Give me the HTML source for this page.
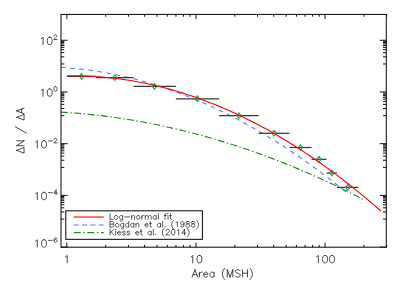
<!DOCTYPE html>
<html><head><meta charset="utf-8"><title>chart</title>
<style>html,body{margin:0;padding:0;background:#fff}</style>
</head><body>
<svg width="407" height="291" viewBox="0 0 407 291" style="display:block">
<rect width="407" height="291" fill="#fff"/>
<path d="M61.00,112.07 L64.83,112.31 L68.67,112.57 L72.50,112.85 L76.34,113.16 L80.17,113.49 L84.01,113.84 L87.84,114.21 L91.67,114.61 L95.51,115.02 L99.34,115.46 L103.18,115.93 L107.01,116.41 L110.84,116.92 L114.68,117.45 L118.51,118.00 L122.35,118.58 L126.18,119.17 L130.02,119.79 L133.85,120.43 L137.68,121.10 L141.52,121.78 L145.35,122.49 L149.19,123.22 L153.02,123.98 L156.85,124.75 L160.69,125.55 L164.52,126.37 L168.36,127.21 L172.19,128.08 L176.03,128.96 L179.86,129.87 L183.69,130.80 L187.53,131.76 L191.36,132.74 L195.20,133.73 L199.03,134.76 L202.86,135.80 L206.70,136.86 L210.53,137.95 L214.37,139.06 L218.20,140.20 L222.04,141.35 L225.87,142.53 L229.70,143.73 L233.54,144.95 L237.37,146.20 L241.21,147.46 L245.04,148.75 L248.87,150.06 L252.71,151.40 L256.54,152.75 L260.38,154.13 L264.21,155.53 L268.05,156.96 L271.88,158.40 L275.71,159.87 L279.55,161.36 L283.38,162.87 L287.22,164.41 L291.05,165.96 L294.88,167.54 L298.72,169.15 L302.55,170.77 L306.39,172.42 L310.22,174.09 L314.06,175.78 L317.89,177.49 L321.72,179.23 L325.56,180.98 L329.39,182.76 L333.23,184.57 L337.06,186.39 L340.89,188.24 L344.73,190.11 L348.56,192.00 L352.40,193.92 L356.23,195.85 L360.07,197.81 L363.90,199.80" fill="none" stroke="#228b22" stroke-width="1.15" stroke-dasharray="7,2.45,1.4,2.45"/>
<path d="M61.00,67.30 L64.64,67.55 L68.28,67.83 L71.92,68.15 L75.56,68.50 L79.20,68.88 L82.84,69.30 L86.47,69.75 L90.11,70.24 L93.75,70.77 L97.39,71.33 L101.03,71.92 L104.67,72.55 L108.31,73.21 L111.95,73.91 L115.59,74.65 L119.23,75.41 L122.87,76.22 L126.51,77.05 L130.15,77.93 L133.78,78.84 L137.42,79.78 L141.06,80.75 L144.70,81.77 L148.34,82.81 L151.98,83.90 L155.62,85.01 L159.26,86.16 L162.90,87.35 L166.54,88.57 L170.18,89.83 L173.82,91.12 L177.46,92.44 L181.09,93.80 L184.73,95.20 L188.37,96.63 L192.01,98.10 L195.65,99.60 L199.29,101.13 L202.93,102.70 L206.57,104.30 L210.21,105.94 L213.85,107.62 L217.49,109.33 L221.13,111.07 L224.77,112.85 L228.41,114.66 L232.04,116.51 L235.68,118.40 L239.32,120.31 L242.96,122.27 L246.60,124.25 L250.24,126.28 L253.88,128.33 L257.52,130.43 L261.16,132.55 L264.80,134.72 L268.44,136.91 L272.08,139.14 L275.72,141.41 L279.35,143.71 L282.99,146.05 L286.63,148.42 L290.27,150.83 L293.91,153.27 L297.55,155.74 L301.19,158.25 L304.83,160.80 L308.47,163.38 L312.11,165.99 L315.75,168.64 L319.39,171.33 L323.03,174.05 L326.66,176.80 L330.30,179.59 L333.94,182.42 L337.58,185.27 L341.22,188.17 L344.86,191.10 L348.50,194.06" fill="none" stroke="#4d7af0" stroke-width="1.05" stroke-dasharray="4.7,4.445"/>
<line x1="67.0" y1="76.4" x2="96.1" y2="76.4" stroke="#383838" stroke-width="1.25"/>
<line x1="96.1" y1="77.65" x2="133.55" y2="77.65" stroke="#383838" stroke-width="1.25"/>
<line x1="133.55" y1="86.4" x2="175.86" y2="86.4" stroke="#383838" stroke-width="1.25"/>
<line x1="175.86" y1="98.8" x2="219.07" y2="98.8" stroke="#383838" stroke-width="1.25"/>
<line x1="219.07" y1="115.65" x2="258.6" y2="115.65" stroke="#383838" stroke-width="1.25"/>
<line x1="258.6" y1="133.3" x2="289.45" y2="133.3" stroke="#383838" stroke-width="1.25"/>
<line x1="289.45" y1="147.5" x2="311.5" y2="147.5" stroke="#383838" stroke-width="1.25"/>
<line x1="311.5" y1="159.3" x2="326.6" y2="159.3" stroke="#383838" stroke-width="1.25"/>
<line x1="326.6" y1="173.0" x2="336.9" y2="173.0" stroke="#383838" stroke-width="1.25"/>
<line x1="336.9" y1="187.4" x2="358.4" y2="187.4" stroke="#383838" stroke-width="1.25"/>
<path d="M79.25,76.4 L81.5,73.60000000000001 L83.75,76.4 L81.5,79.2 Z" fill="none" stroke="#1aa55a" stroke-width="1.1"/>
<path d="M112.55,77.65 L114.8,74.85000000000001 L117.05,77.65 L114.8,80.45 Z" fill="none" stroke="#1aa55a" stroke-width="1.1"/>
<path d="M152.25,86.4 L154.5,83.60000000000001 L156.75,86.4 L154.5,89.2 Z" fill="none" stroke="#1aa55a" stroke-width="1.1"/>
<path d="M195.15,98.8 L197.4,96.0 L199.65,98.8 L197.4,101.6 Z" fill="none" stroke="#1aa55a" stroke-width="1.1"/>
<path d="M236.72,115.65 L238.97,112.85000000000001 L241.22,115.65 L238.97,118.45 Z" fill="none" stroke="#1aa55a" stroke-width="1.1"/>
<path d="M271.82,133.3 L274.07,130.5 L276.32,133.3 L274.07,136.10000000000002 Z" fill="none" stroke="#1aa55a" stroke-width="1.1"/>
<path d="M298.25,147.5 L300.5,144.7 L302.75,147.5 L300.5,150.3 Z" fill="none" stroke="#1aa55a" stroke-width="1.1"/>
<path d="M316.65,159.3 L318.9,156.5 L321.15,159.3 L318.9,162.10000000000002 Z" fill="none" stroke="#1aa55a" stroke-width="1.1"/>
<path d="M329.65,173.0 L331.9,170.2 L334.15,173.0 L331.9,175.8 Z" fill="none" stroke="#1aa55a" stroke-width="1.1"/>
<path d="M345.55,187.4 L347.8,184.6 L350.05,187.4 L347.8,190.20000000000002 Z" fill="none" stroke="#1aa55a" stroke-width="1.1"/>
<path d="M67.10,75.83 L71.07,75.79 L75.04,75.79 L79.02,75.84 L82.99,75.94 L86.96,76.08 L90.93,76.26 L94.91,76.49 L98.88,76.77 L102.85,77.08 L106.82,77.45 L110.79,77.86 L114.77,78.31 L118.74,78.81 L122.71,79.36 L126.68,79.94 L130.65,80.58 L134.63,81.26 L138.60,81.98 L142.57,82.75 L146.54,83.56 L150.52,84.42 L154.49,85.32 L158.46,86.27 L162.43,87.26 L166.40,88.30 L170.38,89.38 L174.35,90.51 L178.32,91.68 L182.29,92.90 L186.26,94.16 L190.24,95.47 L194.21,96.82 L198.18,98.22 L202.15,99.66 L206.13,101.15 L210.10,102.68 L214.07,104.25 L218.04,105.87 L222.01,107.54 L225.99,109.25 L229.96,111.01 L233.93,112.81 L237.90,114.65 L241.87,116.54 L245.85,118.48 L249.82,120.46 L253.79,122.48 L257.76,124.55 L261.74,126.67 L265.71,128.83 L269.68,131.03 L273.65,133.28 L277.62,135.58 L281.60,137.92 L285.57,140.30 L289.54,142.73 L293.51,145.20 L297.48,147.72 L301.46,150.29 L305.43,152.90 L309.40,155.55 L313.37,158.25 L317.35,160.99 L321.32,163.78 L325.29,166.61 L329.26,169.49 L333.23,172.41 L337.21,175.38 L341.18,178.39 L345.15,181.45 L349.12,184.55 L353.09,187.70 L357.07,190.89 L361.04,194.13 L365.01,197.41 L368.98,200.74 L372.96,204.11 L376.93,207.52 L380.90,210.99" fill="none" stroke="#ff0000" stroke-width="1.1"/>
<rect x="61.0" y="14.4" width="325.30" height="232.80" fill="none" stroke="#111" stroke-width="1.05"/>
<path d="M66.85,247.2 V242.60 M66.85,14.4 V19.00 M105.71,247.2 V244.90 M105.71,14.4 V16.70 M128.45,247.2 V244.90 M128.45,14.4 V16.70 M144.58,247.2 V244.90 M144.58,14.4 V16.70 M157.09,247.2 V244.90 M157.09,14.4 V16.70 M167.31,247.2 V244.90 M167.31,14.4 V16.70 M175.95,247.2 V244.90 M175.95,14.4 V16.70 M183.44,247.2 V244.90 M183.44,14.4 V16.70 M190.04,247.2 V244.90 M190.04,14.4 V16.70 M195.95,247.2 V242.60 M195.95,14.4 V19.00 M234.81,247.2 V244.90 M234.81,14.4 V16.70 M257.55,247.2 V244.90 M257.55,14.4 V16.70 M273.68,247.2 V244.90 M273.68,14.4 V16.70 M286.19,247.2 V244.90 M286.19,14.4 V16.70 M296.41,247.2 V244.90 M296.41,14.4 V16.70 M305.05,247.2 V244.90 M305.05,14.4 V16.70 M312.54,247.2 V244.90 M312.54,14.4 V16.70 M319.14,247.2 V244.90 M319.14,14.4 V16.70 M325.05,247.2 V242.60 M325.05,14.4 V19.00 M363.91,247.2 V244.90 M363.91,14.4 V16.70 M386.65,247.2 V244.90 M386.65,14.4 V16.70 M61.0,40.26 H67.60 M386.3,40.26 H379.70 M61.0,63.96 H64.30 M386.3,63.96 H383.00 M61.0,56.82 H64.30 M386.3,56.82 H383.00 M61.0,52.65 H64.30 M386.3,52.65 H383.00 M61.0,49.69 H64.30 M386.3,49.69 H383.00 M61.0,47.39 H64.30 M386.3,47.39 H383.00 M61.0,45.52 H64.30 M386.3,45.52 H383.00 M61.0,43.93 H64.30 M386.3,43.93 H383.00 M61.0,42.55 H64.30 M386.3,42.55 H383.00 M61.0,41.34 H64.30 M386.3,41.34 H383.00 M61.0,91.97 H67.60 M386.3,91.97 H379.70 M61.0,115.67 H64.30 M386.3,115.67 H383.00 M61.0,108.54 H64.30 M386.3,108.54 H383.00 M61.0,104.36 H64.30 M386.3,104.36 H383.00 M61.0,101.40 H64.30 M386.3,101.40 H383.00 M61.0,99.10 H64.30 M386.3,99.10 H383.00 M61.0,97.23 H64.30 M386.3,97.23 H383.00 M61.0,95.64 H64.30 M386.3,95.64 H383.00 M61.0,94.27 H64.30 M386.3,94.27 H383.00 M61.0,93.05 H64.30 M386.3,93.05 H383.00 M61.0,143.68 H67.60 M386.3,143.68 H379.70 M61.0,167.38 H64.30 M386.3,167.38 H383.00 M61.0,160.25 H64.30 M386.3,160.25 H383.00 M61.0,156.07 H64.30 M386.3,156.07 H383.00 M61.0,153.11 H64.30 M386.3,153.11 H383.00 M61.0,150.82 H64.30 M386.3,150.82 H383.00 M61.0,148.94 H64.30 M386.3,148.94 H383.00 M61.0,147.35 H64.30 M386.3,147.35 H383.00 M61.0,145.98 H64.30 M386.3,145.98 H383.00 M61.0,144.77 H64.30 M386.3,144.77 H383.00 M61.0,195.39 H67.60 M386.3,195.39 H379.70 M61.0,219.09 H64.30 M386.3,219.09 H383.00 M61.0,211.96 H64.30 M386.3,211.96 H383.00 M61.0,207.79 H64.30 M386.3,207.79 H383.00 M61.0,204.83 H64.30 M386.3,204.83 H383.00 M61.0,202.53 H64.30 M386.3,202.53 H383.00 M61.0,200.65 H64.30 M386.3,200.65 H383.00 M61.0,199.07 H64.30 M386.3,199.07 H383.00 M61.0,197.69 H64.30 M386.3,197.69 H383.00 M61.0,196.48 H64.30 M386.3,196.48 H383.00 M61.0,247.11 H67.60 M386.3,247.11 H379.70" fill="none" stroke="#111" stroke-width="1.0"/>
<path d="M41.28,38.57 L41.99,38.22 L43.04,37.17 L43.04,44.56 M49.38,37.17 L48.32,37.52 L47.62,38.57 L47.27,40.33 L47.27,41.39 L47.62,43.15 L48.32,44.21 L49.38,44.56 L50.08,44.56 L51.14,44.21 L51.84,43.15 L52.19,41.39 L52.19,40.33 L51.84,38.57 L51.14,37.52 L50.08,37.17 L49.38,37.17" fill="none" stroke="#1a1a1a" stroke-width="0.8" stroke-linecap="round" stroke-linejoin="round"/>
<path d="M54.13,35.99 L54.13,35.77 L54.35,35.33 L54.57,35.11 L55.01,34.89 L55.89,34.89 L56.33,35.11 L56.55,35.33 L56.77,35.77 L56.77,36.21 L56.55,36.65 L56.11,37.31 L53.91,39.51 L56.99,39.51" fill="none" stroke="#1a1a1a" stroke-width="0.75" stroke-linecap="round" stroke-linejoin="round"/>
<path d="M41.28,90.29 L41.99,89.93 L43.04,88.88 L43.04,96.27 M49.38,88.88 L48.32,89.23 L47.62,90.29 L47.27,92.05 L47.27,93.10 L47.62,94.86 L48.32,95.92 L49.38,96.27 L50.08,96.27 L51.14,95.92 L51.84,94.86 L52.19,93.10 L52.19,92.05 L51.84,90.29 L51.14,89.23 L50.08,88.88 L49.38,88.88" fill="none" stroke="#1a1a1a" stroke-width="0.8" stroke-linecap="round" stroke-linejoin="round"/>
<path d="M55.23,86.60 L54.57,86.82 L54.13,87.48 L53.91,88.58 L53.91,89.24 L54.13,90.34 L54.57,91.00 L55.23,91.22 L55.67,91.22 L56.33,91.00 L56.77,90.34 L56.99,89.24 L56.99,88.58 L56.77,87.48 L56.33,86.82 L55.67,86.60 L55.23,86.60" fill="none" stroke="#1a1a1a" stroke-width="0.75" stroke-linecap="round" stroke-linejoin="round"/>
<path d="M35.56,142.00 L36.27,141.65 L37.32,140.59 L37.32,147.98 M43.66,140.59 L42.60,140.94 L41.90,142.00 L41.55,143.76 L41.55,144.81 L41.90,146.57 L42.60,147.63 L43.66,147.98 L44.36,147.98 L45.42,147.63 L46.12,146.57 L46.47,144.81 L46.47,143.76 L46.12,142.00 L45.42,140.94 L44.36,140.59 L43.66,140.59" fill="none" stroke="#1a1a1a" stroke-width="0.8" stroke-linecap="round" stroke-linejoin="round"/>
<path d="M48.41,140.95 L52.37,140.95 M54.13,139.41 L54.13,139.19 L54.35,138.75 L54.57,138.53 L55.01,138.31 L55.89,138.31 L56.33,138.53 L56.55,138.75 L56.77,139.19 L56.77,139.63 L56.55,140.07 L56.11,140.73 L53.91,142.93 L56.99,142.93" fill="none" stroke="#1a1a1a" stroke-width="0.75" stroke-linecap="round" stroke-linejoin="round"/>
<path d="M35.56,193.71 L36.27,193.36 L37.32,192.30 L37.32,199.69 M43.66,192.30 L42.60,192.65 L41.90,193.71 L41.55,195.47 L41.55,196.53 L41.90,198.29 L42.60,199.34 L43.66,199.69 L44.36,199.69 L45.42,199.34 L46.12,198.29 L46.47,196.53 L46.47,195.47 L46.12,193.71 L45.42,192.65 L44.36,192.30 L43.66,192.30" fill="none" stroke="#1a1a1a" stroke-width="0.8" stroke-linecap="round" stroke-linejoin="round"/>
<path d="M48.41,192.66 L52.37,192.66 M56.11,190.02 L53.91,193.10 L57.21,193.10 M56.11,190.02 L56.11,194.64" fill="none" stroke="#1a1a1a" stroke-width="0.75" stroke-linecap="round" stroke-linejoin="round"/>
<path d="M35.56,241.12 L36.27,240.76 L37.32,239.71 L37.32,247.10 M43.66,239.71 L42.60,240.06 L41.90,241.12 L41.55,242.88 L41.55,243.93 L41.90,245.69 L42.60,246.75 L43.66,247.10 L44.36,247.10 L45.42,246.75 L46.12,245.69 L46.47,243.93 L46.47,242.88 L46.12,241.12 L45.42,240.06 L44.36,239.71 L43.66,239.71" fill="none" stroke="#1a1a1a" stroke-width="0.8" stroke-linecap="round" stroke-linejoin="round"/>
<path d="M48.41,240.37 L52.37,240.37 M56.77,238.39 L56.55,237.95 L55.89,237.73 L55.45,237.73 L54.79,237.95 L54.35,238.61 L54.13,239.71 L54.13,240.81 L54.35,241.69 L54.79,242.13 L55.45,242.35 L55.67,242.35 L56.33,242.13 L56.77,241.69 L56.99,241.03 L56.99,240.81 L56.77,240.15 L56.33,239.71 L55.67,239.49 L55.45,239.49 L54.79,239.71 L54.35,240.15 L54.13,240.81" fill="none" stroke="#1a1a1a" stroke-width="0.75" stroke-linecap="round" stroke-linejoin="round"/>
<path d="M65.44,256.87 L66.15,256.51 L67.20,255.46 L67.20,262.85" fill="none" stroke="#1a1a1a" stroke-width="0.8" stroke-linecap="round" stroke-linejoin="round"/>
<path d="M191.02,256.87 L191.73,256.51 L192.78,255.46 L192.78,262.85 M199.12,255.46 L198.06,255.81 L197.36,256.87 L197.01,258.63 L197.01,259.68 L197.36,261.44 L198.06,262.50 L199.12,262.85 L199.82,262.85 L200.88,262.50 L201.58,261.44 L201.93,259.68 L201.93,258.63 L201.58,256.87 L200.88,255.81 L199.82,255.46 L199.12,255.46" fill="none" stroke="#1a1a1a" stroke-width="0.8" stroke-linecap="round" stroke-linejoin="round"/>
<path d="M316.60,256.87 L317.31,256.51 L318.36,255.46 L318.36,262.85 M324.70,255.46 L323.64,255.81 L322.94,256.87 L322.59,258.63 L322.59,259.68 L322.94,261.44 L323.64,262.50 L324.70,262.85 L325.40,262.85 L326.46,262.50 L327.16,261.44 L327.51,259.68 L327.51,258.63 L327.16,256.87 L326.46,255.81 L325.40,255.46 L324.70,255.46 M331.74,255.46 L330.68,255.81 L329.98,256.87 L329.63,258.63 L329.63,259.68 L329.98,261.44 L330.68,262.50 L331.74,262.85 L332.44,262.85 L333.50,262.50 L334.20,261.44 L334.55,259.68 L334.55,258.63 L334.20,256.87 L333.50,255.81 L332.44,255.46 L331.74,255.46" fill="none" stroke="#1a1a1a" stroke-width="0.8" stroke-linecap="round" stroke-linejoin="round"/>
<path d="M194.91,269.74 L192.13,277.05 M194.91,269.74 L197.69,277.05 M193.17,274.61 L196.65,274.61 M199.43,272.18 L199.43,277.05 M199.43,274.27 L199.78,273.22 L200.48,272.53 L201.17,272.18 L202.22,272.18 M203.61,274.27 L207.79,274.27 L207.79,273.57 L207.44,272.87 L207.09,272.53 L206.39,272.18 L205.35,272.18 L204.65,272.53 L203.96,273.22 L203.61,274.27 L203.61,274.96 L203.96,276.01 L204.65,276.70 L205.35,277.05 L206.39,277.05 L207.09,276.70 L207.79,276.01 M214.05,272.18 L214.05,277.05 M214.05,273.22 L213.35,272.53 L212.66,272.18 L211.61,272.18 L210.92,272.53 L210.22,273.22 L209.87,274.27 L209.87,274.96 L210.22,276.01 L210.92,276.70 L211.61,277.05 L212.66,277.05 L213.35,276.70 L214.05,276.01 M224.84,268.35 L224.14,269.05 L223.45,270.09 L222.75,271.48 L222.40,273.22 L222.40,274.61 L222.75,276.35 L223.45,277.75 L224.14,278.79 L224.84,279.49 M227.27,269.74 L227.27,277.05 M227.27,269.74 L230.06,277.05 M232.84,269.74 L230.06,277.05 M232.84,269.74 L232.84,277.05 M240.15,270.79 L239.45,270.09 L238.41,269.74 L237.02,269.74 L235.97,270.09 L235.28,270.79 L235.28,271.48 L235.63,272.18 L235.97,272.53 L236.67,272.87 L238.76,273.57 L239.45,273.92 L239.80,274.27 L240.15,274.96 L240.15,276.01 L239.45,276.70 L238.41,277.05 L237.02,277.05 L235.97,276.70 L235.28,276.01 M242.59,269.74 L242.59,277.05 M247.46,269.74 L247.46,277.05 M242.59,273.22 L247.46,273.22 M249.89,268.35 L250.59,269.05 L251.29,270.09 L251.98,271.48 L252.33,273.22 L252.33,274.61 L251.98,276.35 L251.29,277.75 L250.59,278.79 L249.89,279.49" fill="none" stroke="#1a1a1a" stroke-width="0.8" stroke-linecap="round" stroke-linejoin="round"/>
<path d="M-19.71,-7.39 L-22.53,0.00 L-16.90,0.00 L-19.71,-7.39 M-15.14,-7.39 L-15.14,0.00 M-15.14,-7.39 L-10.21,0.00 M-10.21,-7.39 L-10.21,0.00 M3.87,-8.80 L-2.46,2.46 M13.38,-7.39 L10.56,0.00 L16.19,0.00 L13.38,-7.39 M19.71,-7.39 L16.90,0.00 M19.71,-7.39 L22.53,0.00 M17.95,-2.46 L21.47,-2.46" fill="none" stroke="#1a1a1a" stroke-width="0.8" stroke-linecap="round" stroke-linejoin="round" transform="translate(24.05,130.6) rotate(-90)"/>
<rect x="65.8" y="210.8" width="136.60" height="28.55" fill="#fff" stroke="#111" stroke-width="1.05"/>
<line x1="73.75" y1="217" x2="103.75" y2="217" stroke="#ff0000" stroke-width="1.1"/>
<line x1="73.75" y1="225" x2="103.75" y2="225" stroke="#4d7af0" stroke-width="1.05" stroke-dasharray="5,3.33"/>
<line x1="73.75" y1="232.6" x2="103.75" y2="232.6" stroke="#228b22" stroke-width="1.15" stroke-dasharray="7,2.6,1.4,2.6"/>
<path d="M110.07,213.69 L110.07,219.30 M110.07,219.30 L113.27,219.30 M115.67,215.56 L115.14,215.83 L114.61,216.36 L114.34,217.16 L114.34,217.70 L114.61,218.50 L115.14,219.03 L115.67,219.30 L116.48,219.30 L117.01,219.03 L117.54,218.50 L117.81,217.70 L117.81,217.16 L117.54,216.36 L117.01,215.83 L116.48,215.56 L115.67,215.56 M122.62,215.56 L122.62,219.83 L122.35,220.64 L122.08,220.90 L121.55,221.17 L120.75,221.17 L120.21,220.90 M122.62,216.36 L122.08,215.83 L121.55,215.56 L120.75,215.56 L120.21,215.83 L119.68,216.36 L119.41,217.16 L119.41,217.70 L119.68,218.50 L120.21,219.03 L120.75,219.30 L121.55,219.30 L122.08,219.03 L122.62,218.50 M124.75,216.90 L129.56,216.90 M131.70,215.56 L131.70,219.30 M131.70,216.63 L132.50,215.83 L133.03,215.56 L133.83,215.56 L134.37,215.83 L134.63,216.63 L134.63,219.30 M137.84,215.56 L137.30,215.83 L136.77,216.36 L136.50,217.16 L136.50,217.70 L136.77,218.50 L137.30,219.03 L137.84,219.30 L138.64,219.30 L139.17,219.03 L139.71,218.50 L139.97,217.70 L139.97,217.16 L139.71,216.36 L139.17,215.83 L138.64,215.56 L137.84,215.56 M141.84,215.56 L141.84,219.30 M141.84,217.16 L142.11,216.36 L142.64,215.83 L143.18,215.56 L143.98,215.56 M145.31,215.56 L145.31,219.30 M145.31,216.63 L146.11,215.83 L146.65,215.56 L147.45,215.56 L147.98,215.83 L148.25,216.63 L148.25,219.30 M148.25,216.63 L149.05,215.83 L149.58,215.56 L150.39,215.56 L150.92,215.83 L151.19,216.63 L151.19,219.30 M156.26,215.56 L156.26,219.30 M156.26,216.36 L155.73,215.83 L155.19,215.56 L154.39,215.56 L153.86,215.83 L153.32,216.36 L153.06,217.16 L153.06,217.70 L153.32,218.50 L153.86,219.03 L154.39,219.30 L155.19,219.30 L155.73,219.03 L156.26,218.50 M158.40,213.69 L158.40,219.30 M166.41,213.69 L165.87,213.69 L165.34,213.96 L165.07,214.76 L165.07,219.30 M164.27,215.56 L166.14,215.56 M167.74,213.69 L168.01,213.96 L168.27,213.69 L168.01,213.43 L167.74,213.69 M168.01,215.56 L168.01,219.30 M170.41,213.69 L170.41,218.23 L170.68,219.03 L171.21,219.30 L171.75,219.30 M169.61,215.56 L171.48,215.56" fill="none" stroke="#1a1a1a" stroke-width="0.7" stroke-linecap="round" stroke-linejoin="round"/>
<path d="M110.07,221.49 L110.07,227.10 M110.07,221.49 L112.47,221.49 L113.27,221.76 L113.54,222.03 L113.81,222.56 L113.81,223.09 L113.54,223.63 L113.27,223.90 L112.47,224.16 M110.07,224.16 L112.47,224.16 L113.27,224.43 L113.54,224.70 L113.81,225.23 L113.81,226.03 L113.54,226.57 L113.27,226.83 L112.47,227.10 L110.07,227.10 M116.74,223.36 L116.21,223.63 L115.67,224.16 L115.41,224.96 L115.41,225.50 L115.67,226.30 L116.21,226.83 L116.74,227.10 L117.54,227.10 L118.08,226.83 L118.61,226.30 L118.88,225.50 L118.88,224.96 L118.61,224.16 L118.08,223.63 L117.54,223.36 L116.74,223.36 M123.69,223.36 L123.69,227.63 L123.42,228.44 L123.15,228.70 L122.62,228.97 L121.82,228.97 L121.28,228.70 M123.69,224.16 L123.15,223.63 L122.62,223.36 L121.82,223.36 L121.28,223.63 L120.75,224.16 L120.48,224.96 L120.48,225.50 L120.75,226.30 L121.28,226.83 L121.82,227.10 L122.62,227.10 L123.15,226.83 L123.69,226.30 M128.76,221.49 L128.76,227.10 M128.76,224.16 L128.22,223.63 L127.69,223.36 L126.89,223.36 L126.36,223.63 L125.82,224.16 L125.55,224.96 L125.55,225.50 L125.82,226.30 L126.36,226.83 L126.89,227.10 L127.69,227.10 L128.22,226.83 L128.76,226.30 M133.83,223.36 L133.83,227.10 M133.83,224.16 L133.30,223.63 L132.76,223.36 L131.96,223.36 L131.43,223.63 L130.89,224.16 L130.63,224.96 L130.63,225.50 L130.89,226.30 L131.43,226.83 L131.96,227.10 L132.76,227.10 L133.30,226.83 L133.83,226.30 M135.97,223.36 L135.97,227.10 M135.97,224.43 L136.77,223.63 L137.30,223.36 L138.10,223.36 L138.64,223.63 L138.90,224.43 L138.90,227.10 M145.05,224.96 L148.25,224.96 L148.25,224.43 L147.98,223.90 L147.72,223.63 L147.18,223.36 L146.38,223.36 L145.85,223.63 L145.31,224.16 L145.05,224.96 L145.05,225.50 L145.31,226.30 L145.85,226.83 L146.38,227.10 L147.18,227.10 L147.72,226.83 L148.25,226.30 M150.39,221.49 L150.39,226.03 L150.65,226.83 L151.19,227.10 L151.72,227.10 M149.58,223.36 L151.45,223.36 M160.53,223.36 L160.53,227.10 M160.53,224.16 L160.00,223.63 L159.46,223.36 L158.66,223.36 L158.13,223.63 L157.59,224.16 L157.33,224.96 L157.33,225.50 L157.59,226.30 L158.13,226.83 L158.66,227.10 L159.46,227.10 L160.00,226.83 L160.53,226.30 M162.67,221.49 L162.67,227.10 M165.07,226.57 L164.80,226.83 L165.07,227.10 L165.34,226.83 L165.07,226.57 M173.61,220.42 L173.08,220.96 L172.55,221.76 L172.01,222.83 L171.75,224.16 L171.75,225.23 L172.01,226.57 L172.55,227.63 L173.08,228.44 L173.61,228.97 M176.02,222.56 L176.55,222.29 L177.35,221.49 L177.35,227.10 M184.03,223.36 L183.76,224.16 L183.23,224.70 L182.43,224.96 L182.16,224.96 L181.36,224.70 L180.82,224.16 L180.56,223.36 L180.56,223.09 L180.82,222.29 L181.36,221.76 L182.16,221.49 L182.43,221.49 L183.23,221.76 L183.76,222.29 L184.03,223.36 L184.03,224.70 L183.76,226.03 L183.23,226.83 L182.43,227.10 L181.89,227.10 L181.09,226.83 L180.82,226.30 M187.23,221.49 L186.43,221.76 L186.16,222.29 L186.16,222.83 L186.43,223.36 L186.96,223.63 L188.03,223.90 L188.83,224.16 L189.37,224.70 L189.63,225.23 L189.63,226.03 L189.37,226.57 L189.10,226.83 L188.30,227.10 L187.23,227.10 L186.43,226.83 L186.16,226.57 L185.90,226.03 L185.90,225.23 L186.16,224.70 L186.70,224.16 L187.50,223.90 L188.57,223.63 L189.10,223.36 L189.37,222.83 L189.37,222.29 L189.10,221.76 L188.30,221.49 L187.23,221.49 M192.57,221.49 L191.77,221.76 L191.50,222.29 L191.50,222.83 L191.77,223.36 L192.30,223.63 L193.37,223.90 L194.17,224.16 L194.71,224.70 L194.97,225.23 L194.97,226.03 L194.71,226.57 L194.44,226.83 L193.64,227.10 L192.57,227.10 L191.77,226.83 L191.50,226.57 L191.24,226.03 L191.24,225.23 L191.50,224.70 L192.04,224.16 L192.84,223.90 L193.91,223.63 L194.44,223.36 L194.71,222.83 L194.71,222.29 L194.44,221.76 L193.64,221.49 L192.57,221.49 M196.58,220.42 L197.11,220.96 L197.64,221.76 L198.18,222.83 L198.45,224.16 L198.45,225.23 L198.18,226.57 L197.64,227.63 L197.11,228.44 L196.58,228.97" fill="none" stroke="#1a1a1a" stroke-width="0.7" stroke-linecap="round" stroke-linejoin="round"/>
<path d="M110.07,229.39 L110.07,235.00 M113.81,229.39 L110.07,233.13 M111.40,231.80 L113.81,235.00 M115.41,229.39 L115.67,229.66 L115.94,229.39 L115.67,229.13 L115.41,229.39 M115.67,231.26 L115.67,235.00 M117.54,232.86 L120.75,232.86 L120.75,232.33 L120.48,231.80 L120.21,231.53 L119.68,231.26 L118.88,231.26 L118.34,231.53 L117.81,232.06 L117.54,232.86 L117.54,233.40 L117.81,234.20 L118.34,234.73 L118.88,235.00 L119.68,235.00 L120.21,234.73 L120.75,234.20 M125.29,232.06 L125.02,231.53 L124.22,231.26 L123.42,231.26 L122.62,231.53 L122.35,232.06 L122.62,232.60 L123.15,232.86 L124.49,233.13 L125.02,233.40 L125.29,233.93 L125.29,234.20 L125.02,234.73 L124.22,235.00 L123.42,235.00 L122.62,234.73 L122.35,234.20 M129.83,232.06 L129.56,231.53 L128.76,231.26 L127.96,231.26 L127.16,231.53 L126.89,232.06 L127.16,232.60 L127.69,232.86 L129.03,233.13 L129.56,233.40 L129.83,233.93 L129.83,234.20 L129.56,234.73 L128.76,235.00 L127.96,235.00 L127.16,234.73 L126.89,234.20 M135.70,232.86 L138.90,232.86 L138.90,232.33 L138.64,231.80 L138.37,231.53 L137.84,231.26 L137.03,231.26 L136.50,231.53 L135.97,232.06 L135.70,232.86 L135.70,233.40 L135.97,234.20 L136.50,234.73 L137.03,235.00 L137.84,235.00 L138.37,234.73 L138.90,234.20 M141.04,229.39 L141.04,233.93 L141.31,234.73 L141.84,235.00 L142.37,235.00 M140.24,231.26 L142.11,231.26 M151.19,231.26 L151.19,235.00 M151.19,232.06 L150.65,231.53 L150.12,231.26 L149.32,231.26 L148.78,231.53 L148.25,232.06 L147.98,232.86 L147.98,233.40 L148.25,234.20 L148.78,234.73 L149.32,235.00 L150.12,235.00 L150.65,234.73 L151.19,234.20 M153.32,229.39 L153.32,235.00 M155.72,234.47 L155.46,234.73 L155.72,235.00 L155.99,234.73 L155.72,234.47 M164.27,228.32 L163.73,228.86 L163.20,229.66 L162.67,230.73 L162.40,232.06 L162.40,233.13 L162.67,234.47 L163.20,235.53 L163.73,236.34 L164.27,236.87 M166.14,230.73 L166.14,230.46 L166.40,229.93 L166.67,229.66 L167.21,229.39 L168.27,229.39 L168.81,229.66 L169.07,229.93 L169.34,230.46 L169.34,231.00 L169.07,231.53 L168.54,232.33 L165.87,235.00 L169.61,235.00 M172.81,229.39 L172.01,229.66 L171.48,230.46 L171.21,231.80 L171.21,232.60 L171.48,233.93 L172.01,234.73 L172.81,235.00 L173.35,235.00 L174.15,234.73 L174.68,233.93 L174.95,232.60 L174.95,231.80 L174.68,230.46 L174.15,229.66 L173.35,229.39 L172.81,229.39 M177.35,230.46 L177.89,230.19 L178.69,229.39 L178.69,235.00 M184.56,229.39 L181.89,233.13 L185.90,233.13 M184.56,229.39 L184.56,235.00 M187.23,228.32 L187.76,228.86 L188.30,229.66 L188.83,230.73 L189.10,232.06 L189.10,233.13 L188.83,234.47 L188.30,235.53 L187.76,236.34 L187.23,236.87" fill="none" stroke="#1a1a1a" stroke-width="0.7" stroke-linecap="round" stroke-linejoin="round"/>
</svg>
</body></html>
